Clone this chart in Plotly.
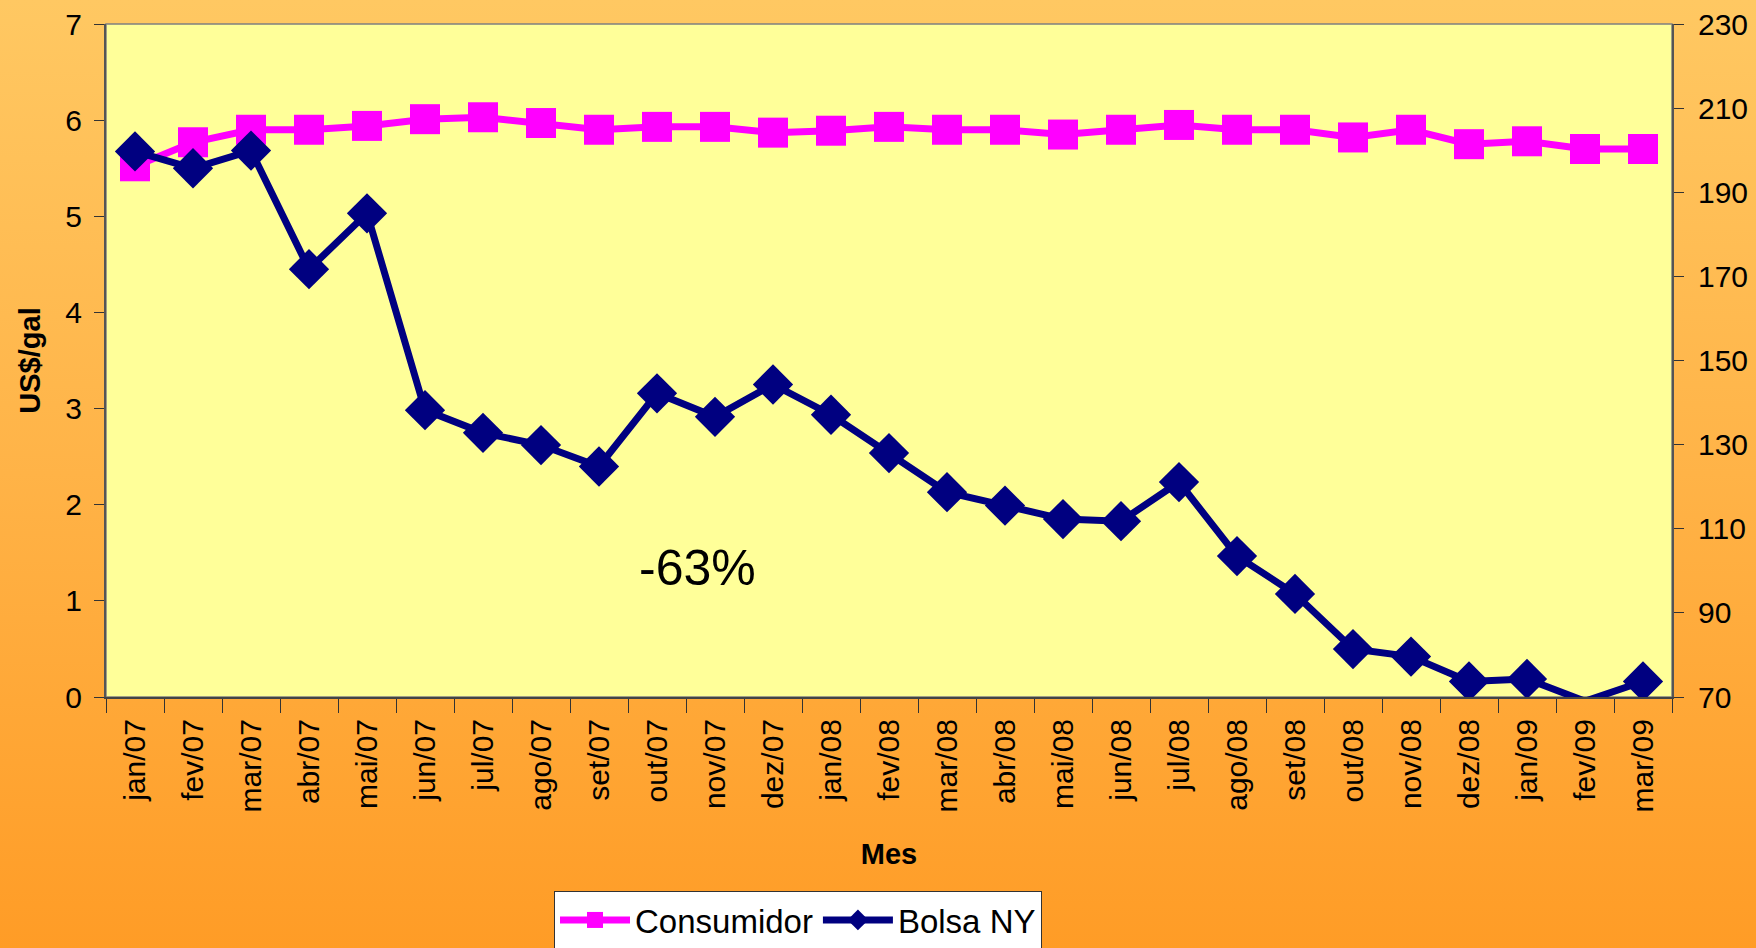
import base64
import plotly.graph_objects as go

months = ["jan/07", "fev/07", "mar/07", "abr/07", "mai/07", "jun/07", "jul/07", "ago/07",
          "set/07", "out/07", "nov/07", "dez/07", "jan/08", "fev/08", "mar/08", "abr/08",
          "mai/08", "jun/08", "jul/08", "ago/08", "set/08", "out/08", "nov/08", "dez/08",
          "jan/09", "fev/09", "mar/09"]
consumidor = [5.52, 5.77, 5.90, 5.90, 5.94, 6.01, 6.03, 5.97, 5.90, 5.93, 5.93, 5.87, 5.89,
              5.93, 5.90, 5.90, 5.85, 5.90, 5.95, 5.90, 5.90, 5.82, 5.90, 5.75, 5.78, 5.70, 5.70]
bolsa_ny = [199.7, 195.7, 199.9, 171.7, 185.0, 138.2, 132.8, 129.9, 124.8, 142.2, 136.6, 144.3,
            137.1, 128.0, 118.7, 115.5, 112.3, 111.8, 121.1, 103.5, 94.5, 81.4, 79.6, 73.7,
            74.3, 69.0, 73.7]
left_ticks = [0, 1, 2, 3, 4, 5, 6, 7]
right_ticks = [70, 90, 110, 130, 150, 170, 190, 210, 230]
annotation_text = "-63%"

FONT = "Liberation Sans, Arial, sans-serif"
W, H = 1756, 948
ML, MR, MT, MB = 106, 84, 24, 251
PW, PH = W - ML - MR, H - MT - MB

svg = ('<svg xmlns="http://www.w3.org/2000/svg" width="1756" height="948" preserveAspectRatio="none">'
       '<defs><linearGradient id="g" x1="0" y1="0" x2="0" y2="1">'
       '<stop offset="0" stop-color="#FFC862"/><stop offset="0.5" stop-color="#FFB347"/>'
       '<stop offset="1" stop-color="#FF9C26"/></linearGradient></defs>'
       '<rect width="1756" height="948" fill="url(#g)"/></svg>')
bg_uri = "data:image/svg+xml;base64," + base64.b64encode(svg.encode()).decode()

rmin = right_ticks[0]
bolsa_sizes = [31 if v >= rmin else 0 for v in bolsa_ny]

fig = go.Figure()
fig.add_trace(go.Scatter(x=months, y=consumidor, name="Consumidor", mode="lines+markers",
                         line=dict(color="#FF00FF", width=7),
                         marker=dict(symbol="square", size=30, color="#FF00FF", opacity=1,
                                     line=dict(width=0)),
                         xaxis="x", yaxis="y"))
fig.add_trace(go.Scatter(x=months, y=bolsa_ny, name="Bolsa NY", mode="lines+markers",
                         line=dict(color="#000080", width=7),
                         marker=dict(symbol="diamond", size=bolsa_sizes, color="#000080",
                                     opacity=1, line=dict(width=0)),
                         xaxis="x", yaxis="y2"))

n = len(months)
boundaries = [i - 0.5 for i in range(n + 1)]
tickfont = dict(family=FONT, size=30, color="black")

fig.update_layout(
    width=W, height=H,
    margin=dict(l=ML, r=MR, t=MT, b=MB, autoexpand=False),
    paper_bgcolor="#FFB347",
    plot_bgcolor="rgba(0,0,0,0)",
    font=dict(family=FONT, color="black"),
    showlegend=True,
    hovermode=False,
    xaxis=dict(type="category", categoryorder="array", categoryarray=months,
               range=[-0.5, n - 0.5], tickson="boundaries", ticks="outside", ticklen=14,
               tickcolor="#333", tickwidth=1, tickangle=-90, ticklabelstandoff=8,
               tickfont=dict(family=FONT, size=30, color="black"),
               showline=True, linecolor="#444", linewidth=2, showgrid=False, zeroline=False,
               title=dict(text="<b>Mes</b>", font=dict(family=FONT, size=29), standoff=32),
               automargin=False, anchor="y"),
    xaxis2=dict(overlaying="x", anchor="y", range=[-0.5, n - 0.5], tickmode="array",
                tickvals=boundaries, ticks="inside", ticklen=12, tickcolor="#333",
                showticklabels=False, showline=False, showgrid=False, zeroline=False,
                side="bottom"),
    yaxis=dict(range=[left_ticks[0], left_ticks[-1]], tickmode="array", tickvals=left_ticks,
               ticks="outside", ticklen=10, tickcolor="#333", tickfont=tickfont,
               ticklabelstandoff=6,
               showline=True, linecolor="#555", linewidth=2, showgrid=False, zeroline=False,
               title=dict(text="<b>US$/gal</b>", font=dict(family=FONT, size=29), standoff=16),
               automargin=False, anchor="x"),
    yaxis2=dict(overlaying="y", side="right", anchor="x",
                range=[right_ticks[0], right_ticks[-1]], tickmode="array", tickvals=right_ticks,
                ticks="outside", ticklen=10, tickcolor="#333", tickfont=tickfont,
                ticklabelstandoff=8,
                showline=True, linecolor="#555", linewidth=2, showgrid=False, zeroline=False,
                automargin=False),
    yaxis3=dict(overlaying="y", side="left", anchor="x",
                range=[left_ticks[0], left_ticks[-1]], tickmode="array", tickvals=left_ticks,
                ticks="inside", ticklen=10, tickcolor="#333", showticklabels=False,
                showline=False, showgrid=False, zeroline=False),
    yaxis4=dict(overlaying="y", side="right", anchor="x",
                range=[right_ticks[0], right_ticks[-1]], tickmode="array", tickvals=right_ticks,
                ticks="inside", ticklen=10, tickcolor="#333", showticklabels=False,
                showline=False, showgrid=False, zeroline=False),
    legend=dict(orientation="h", x=(798 - ML) / PW, xanchor="center",
                y=-(891 - MT - PH) / PH, yanchor="top",
                bgcolor="white", bordercolor="#333", borderwidth=1,
                font=dict(family=FONT, size=33, color="black"), itemwidth=70,
                tracegroupgap=0),
    images=[dict(source=bg_uri, xref="paper", yref="paper", x=-ML / PW, y=1 + MT / PH,
                 sizex=W / PW, sizey=H / PH, xanchor="left", yanchor="top",
                 sizing="stretch", layer="below")],
    shapes=[dict(type="rect", xref="paper", yref="paper", x0=0, x1=1, y0=0, y1=1,
                 fillcolor="#FFFF99", line=dict(color="#808080", width=1.5), layer="below")],
    annotations=[dict(text=annotation_text, xref="paper", yref="paper",
                      x=(697 - ML) / PW, y=(MT + PH - 568) / PH, showarrow=False,
                      xanchor="center", yanchor="middle",
                      font=dict(family=FONT, size=50, color="black"))],
)

fig.write_html("out.html", config={"displayModeBar": False, "staticPlot": True},
               post_script="document.body.style.margin='0px';document.body.style.overflow='hidden';")
